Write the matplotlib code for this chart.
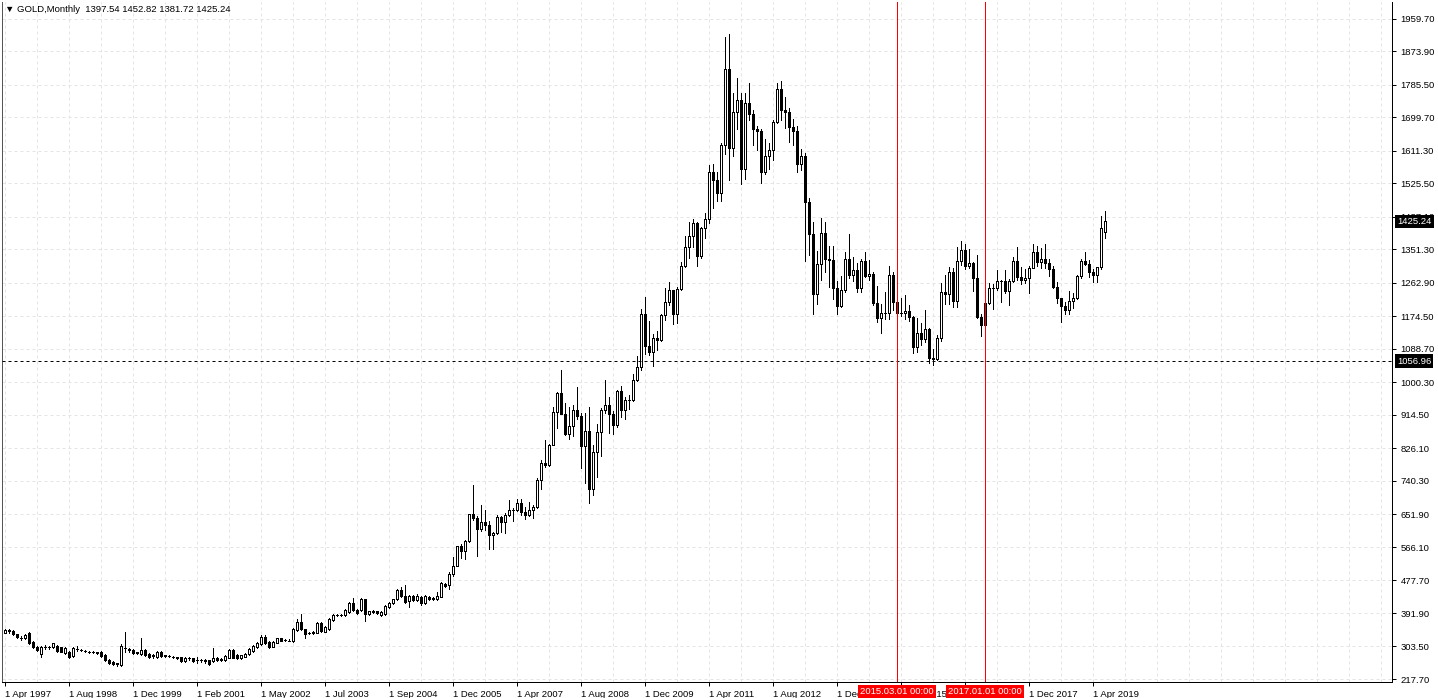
import matplotlib.pyplot as plt
from matplotlib.patches import Rectangle
from matplotlib.transforms import blended_transform_factory

# monthly OHLC, one entry per bar (bar 0 = 1 Apr 1997, last bar = Jul 2019)
opens = [
    340, 345, 345, 336, 326, 327, 340, 316, 303, 285, 303, 302, 303, 305, 301, 287,
    290, 278, 296, 294, 292, 290, 288, 288, 290, 281, 269, 263, 256, 255, 299, 296,
    294, 287, 284, 294, 284, 278, 277, 290, 278, 278, 277, 275, 275, 265, 272, 272,
    268, 267, 268, 267, 265, 273, 269, 268, 274, 294, 281, 273, 277, 284, 292, 301,
    309, 329, 316, 303, 314, 325, 321, 319, 318, 347, 369, 349, 340, 339, 340, 366,
    343, 349, 373, 386, 387, 387, 395, 417, 401, 400, 428, 389, 396, 396, 387, 389,
    409, 419, 428, 453, 437, 423, 437, 427, 435, 418, 433, 431, 430, 435, 468, 466,
    494, 517, 568, 556, 582, 654, 643, 614, 633, 625, 599, 604, 646, 632, 650, 665,
    663, 682, 658, 650, 665, 672, 743, 789, 783, 834, 923, 972, 916, 865, 886, 928,
    912, 833, 871, 718, 818, 869, 928, 942, 917, 887, 978, 927, 954, 954, 1008, 1040,
    1182, 1096, 1082, 1118, 1113, 1179, 1213, 1244, 1181, 1248, 1308, 1357, 1386, 1421, 1333, 1409,
    1432, 1556, 1536, 1500, 1628, 1827, 1620, 1713, 1746, 1565, 1738, 1710, 1668, 1663, 1557, 1598,
    1614, 1687, 1774, 1719, 1713, 1675, 1663, 1578, 1597, 1476, 1392, 1234, 1313, 1396, 1327, 1323,
    1250, 1202, 1244, 1326, 1283, 1296, 1250, 1322, 1282, 1286, 1210, 1171, 1183, 1184, 1283, 1213,
    1183, 1184, 1190, 1172, 1095, 1132, 1115, 1142, 1065, 1061, 1118, 1238, 1235, 1293, 1215, 1322,
    1350, 1309, 1316, 1277, 1174, 1152, 1211, 1249, 1249, 1268, 1268, 1242, 1269, 1322, 1280, 1271,
    1275, 1303, 1345, 1318, 1325, 1315, 1299, 1252, 1224, 1201, 1192, 1215, 1222, 1282, 1321, 1313,
    1292, 1283, 1305, 1397.54,
]
highs = [
    351, 350, 347, 337, 330, 336, 343, 318, 305, 305, 307, 306, 314, 308, 303, 301,
    292, 303, 306, 297, 294, 292, 291, 290, 292, 283, 271, 265, 261, 310, 342, 300,
    296, 290, 325, 296, 286, 283, 292, 292, 282, 281, 279, 277, 277, 276, 275, 274,
    275, 271, 270, 269, 300, 276, 273, 280, 297, 296, 283, 282, 287, 300, 308, 315,
    333, 333, 318, 319, 327, 327, 323, 322, 352, 375, 389, 351, 343, 344, 368, 369,
    358, 378, 389, 390, 389, 402, 420, 431, 403, 431, 430, 398, 400, 398, 398, 413,
    422, 430, 456, 461, 466, 440, 440, 441, 438, 440, 436, 433, 448, 475, 471, 501,
    541, 569, 574, 584, 654, 730, 649, 677, 665, 635, 607, 650, 648, 655, 691, 668,
    692, 693, 672, 686, 676, 748, 795, 848, 838, 935, 975, 1032, 947, 936, 941, 989,
    920, 919, 936, 836, 890, 934, 1007, 962, 925, 981, 990, 961, 966, 1024, 1070, 1195,
    1227, 1163, 1129, 1136, 1181, 1249, 1265, 1245, 1251, 1318, 1388, 1424, 1432, 1423, 1411, 1447,
    1575, 1577, 1557, 1632, 1913, 1921, 1764, 1803, 1764, 1764, 1791, 1720, 1677, 1668, 1642, 1632,
    1692, 1790, 1796, 1755, 1724, 1696, 1678, 1617, 1605, 1487, 1424, 1347, 1434, 1424, 1361, 1361,
    1267, 1281, 1345, 1392, 1331, 1315, 1326, 1345, 1323, 1292, 1256, 1208, 1238, 1308, 1293, 1224,
    1224, 1232, 1205, 1175, 1170, 1157, 1191, 1143, 1088, 1125, 1263, 1283, 1304, 1303, 1358, 1375,
    1367, 1353, 1318, 1338, 1180, 1220, 1264, 1261, 1296, 1271, 1296, 1274, 1331, 1357, 1306, 1299,
    1307, 1366, 1361, 1356, 1365, 1326, 1309, 1265, 1224, 1214, 1243, 1237, 1285, 1326, 1346, 1324,
    1300, 1305, 1439, 1452.82,
]
lows = [
    338, 338, 335, 326, 320, 322, 310, 300, 292, 277, 296, 298, 300, 290, 288, 285,
    274, 276, 292, 291, 289, 287, 286, 284, 276, 266, 258, 254, 253, 253, 290, 290,
    284, 284, 282, 279, 274, 274, 274, 276, 275, 275, 273, 271, 262, 263, 268, 262,
    259, 262, 261, 254, 263, 266, 266, 266, 272, 272, 270, 271, 275, 282, 290, 299,
    307, 311, 300, 301, 312, 317, 318, 317, 316, 345, 346, 325, 336, 337, 338, 341,
    341, 347, 371, 384, 384, 385, 393, 397, 389, 397, 372, 387, 392, 389, 385, 387,
    406, 416, 425, 433, 419, 409, 423, 424, 414, 416, 425, 426, 427, 433, 461, 454,
    489, 516, 538, 535, 579, 637, 543, 609, 612, 560, 560, 600, 605, 603, 647, 635,
    662, 650, 641, 648, 642, 670, 719, 776, 780, 834, 880, 918, 862, 852, 858, 903,
    774, 735, 681, 704, 750, 805, 921, 866, 865, 883, 908, 905, 931, 952, 1003, 1033,
    1075, 1072, 1045, 1086, 1110, 1165, 1205, 1155, 1157, 1244, 1305, 1330, 1357, 1309, 1328, 1381,
    1420, 1462, 1478, 1480, 1604, 1535, 1598, 1670, 1523, 1537, 1692, 1628, 1614, 1527, 1550, 1563,
    1587, 1686, 1693, 1673, 1635, 1626, 1555, 1562, 1321, 1338, 1180, 1207, 1271, 1291, 1251, 1221,
    1181, 1200, 1238, 1277, 1268, 1240, 1240, 1280, 1272, 1205, 1160, 1131, 1167, 1167, 1191, 1142,
    1176, 1169, 1162, 1077, 1080, 1098, 1106, 1052, 1046, 1060, 1110, 1208, 1207, 1200, 1199, 1310,
    1301, 1302, 1241, 1171, 1123, 1146, 1208, 1195, 1245, 1214, 1236, 1205, 1265, 1271, 1261, 1264,
    1236, 1302, 1307, 1303, 1302, 1282, 1250, 1211, 1160, 1180, 1182, 1196, 1221, 1276, 1310, 1280,
    1266, 1266, 1301, 1381.72,
]
closes = [
    348, 347, 336.5, 328, 325, 334, 312, 303, 294, 303, 302, 303, 312, 292, 290, 299,
    277, 300, 297, 294, 291, 290, 289, 287, 278, 268, 261, 256, 259, 305, 299, 295,
    286, 288, 294, 281, 277, 281, 290, 278, 280, 278, 276, 274, 264, 274, 272, 264,
    267, 268, 264, 256, 274, 268, 270, 278, 294, 274, 272, 280, 285, 297, 305, 312,
    329, 314, 303, 316, 325, 319, 320, 319, 349, 369, 349, 336, 339, 341, 365, 344,
    356, 375, 387, 387, 386, 400, 417, 400, 391, 428, 388, 396, 395, 391, 395, 410,
    419, 428, 453, 437, 422, 437, 426, 437, 417, 437, 428, 428, 437, 470, 464, 494,
    517, 568, 556, 582, 654, 643, 614, 633, 625, 599, 604, 646, 632, 650, 665, 663,
    682, 658, 650, 665, 672, 743, 789, 783, 834, 923, 972, 916, 865, 886, 928, 912,
    833, 871, 718, 818, 869, 928, 942, 917, 887, 978, 927, 954, 954, 1008, 1040, 1182,
    1096, 1082, 1118, 1113, 1179, 1213, 1244, 1181, 1248, 1308, 1357, 1386, 1421, 1333, 1409, 1432,
    1556, 1536, 1500, 1628, 1827, 1620, 1713, 1746, 1565, 1738, 1710, 1668, 1663, 1557, 1598, 1614,
    1687, 1774, 1719, 1713, 1675, 1663, 1578, 1597, 1476, 1392, 1234, 1313, 1396, 1327, 1323, 1250,
    1202, 1244, 1326, 1283, 1296, 1250, 1322, 1282, 1286, 1210, 1171, 1183, 1184, 1283, 1213, 1183,
    1184, 1190, 1172, 1095, 1132, 1115, 1142, 1065, 1061, 1118, 1238, 1235, 1293, 1215, 1322, 1350,
    1309, 1316, 1277, 1174, 1152, 1211, 1249, 1249, 1268, 1268, 1242, 1269, 1322, 1280, 1271, 1275,
    1303, 1345, 1318, 1325, 1315, 1299, 1252, 1224, 1201, 1192, 1215, 1222, 1282, 1321, 1313, 1292,
    1283, 1305, 1409, 1425.24,
]

price_ticks = [217.70, 303.50, 391.90, 477.70, 566.10, 651.90, 740.30, 826.10, 914.50,
               1000.30, 1088.70, 1174.50, 1262.90, 1351.30, 1437.10, 1525.50, 1611.30,
               1699.70, 1785.50, 1873.90, 1959.70]
date_labels = ['1 Apr 1997', '1 Aug 1998', '1 Dec 1999', '1 Feb 2001', '1 May 2002',
               '1 Jul 2003', '1 Sep 2004', '1 Dec 2005', '1 Apr 2007', '1 Aug 2008',
               '1 Dec 2009', '1 Apr 2011', '1 Aug 2012', '1 Dec 2013', '1 Apr 2015',
               '1 Aug 2016', '1 Dec 2017', '1 Apr 2019']
label_step = 16
vline_bars = [223, 245]
vline_texts = ['2015.03.01 00:00', '2017.01.01 00:00']
level = 1056.96
header = '\u25bc GOLD,Monthly  1397.54 1452.82 1381.72 1425.24'

fonts = ['Liberation Sans', 'DejaVu Sans']
plt.rcParams['font.family'] = fonts
fs = 6.8

W, H = 1438, 698
fig = plt.figure(figsize=(W / 100, H / 100), dpi=100)
fig.patch.set_facecolor('white')
ax = fig.add_axes([2 / W, 16 / H, 1390 / W, 680 / H])

px = 0.72  # one pixel in points
n = len(opens)

# grid
for p in price_ticks:
    ax.axhline(p, color='#e4e4e4', lw=px, ls=(0, (3, 3)), zorder=0)
for b in range(0, 347, 8):
    ax.axvline(b, color='#e4e4e4', lw=px, ls=(0, (3, 3)), zorder=0)

# candles
ax.vlines(range(n), lows, highs, color='black', lw=px, antialiased=False, zorder=2)
for i in range(n):
    o, c = opens[i], closes[i]
    fc = 'white' if c >= o else 'black'
    ax.add_patch(Rectangle((i - 0.25, min(o, c)), 0.5, max(abs(c - o), 0.01),
                           facecolor=fc, edgecolor='black', lw=px,
                           antialiased=False, zorder=3))

ax.axhline(level, color='black', lw=px, ls=(0, (3, 3)), zorder=4)
for b in vline_bars:
    ax.axvline(b, color='red', lw=px, antialiased=False, zorder=4)

ax.set_xlim(-0.75, 346.75)
ax.set_ylim(209.8, 2004.5)

ax.set_xticks([k * label_step for k in range(len(date_labels))])
ax.set_xticklabels(date_labels, ha='left')
ax.tick_params(axis='x', direction='out', length=3, width=px, pad=2.5, labelsize=fs)

ax.yaxis.tick_right()
ax.set_yticks(price_ticks)
ax.set_yticklabels(['%.2f' % p for p in price_ticks])
ax.tick_params(axis='y', direction='out', length=3, width=px, pad=3, labelsize=fs)

ax.spines['top'].set_visible(False)
for s in ['left', 'right', 'bottom']:
    ax.spines[s].set_linewidth(px)
ax.spines['left'].set_color('#555555')

# price boxes on the right axis
ty = blended_transform_factory(ax.transAxes, ax.transData)
for p in [closes[-1], level]:
    ax.text(1.0035, p, '%.2f' % p, transform=ty, ha='left', va='center', color='white',
            fontsize=fs, clip_on=False, zorder=10,
            bbox=dict(boxstyle='square,pad=0.25', fc='black', ec='none'))

# date boxes under the vertical lines
tx = blended_transform_factory(ax.transData, ax.transAxes)
for b, t in zip(vline_bars, vline_texts):
    ax.text(b, -9.5 / 680, t, transform=tx, ha='center', va='center', color='white',
            fontsize=fs, clip_on=False, zorder=10,
            bbox=dict(boxstyle='square,pad=0.25', fc='#ff0000', ec='none'))

fig.text(5 / W, 1 - 9 / H, header, ha='left', va='center', fontsize=fs, family=fonts)

fig.savefig('out.png', dpi=100, facecolor='white')
